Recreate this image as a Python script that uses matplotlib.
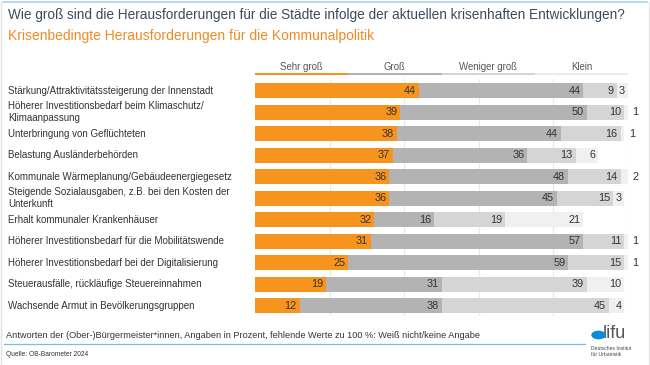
import matplotlib
matplotlib.use("Agg")
import matplotlib.pyplot as plt
from matplotlib.patches import Circle
from matplotlib.lines import Line2D

plt.rcParams["font.family"] = ["Liberation Sans", "DejaVu Sans"]

categories = [
    "Stärkung/Attraktivitätssteigerung der Innenstadt",
    "Höherer Investitionsbedarf beim Klimaschutz/\nKlimaanpassung",
    "Unterbringung von Geflüchteten",
    "Belastung Ausländerbehörden",
    "Kommunale Wärmeplanung/Gebäudeenergiegesetz",
    "Steigende Sozialausgaben, z.B. bei den Kosten der\nUnterkunft",
    "Erhalt kommunaler Krankenhäuser",
    "Höherer Investitionsbedarf für die Mobilitätswende",
    "Höherer Investitionsbedarf bei der Digitalisierung",
    "Steuerausfälle, rückläufige Steuereinnahmen",
    "Wachsende Armut in Bevölkerungsgruppen",
]
sehr_gross = [44, 39, 38, 37, 36, 36, 32, 31, 25, 19, 12]
gross = [44, 50, 44, 36, 48, 45, 16, 57, 59, 31, 38]
weniger_gross = [9, 10, 16, 13, 14, 15, 19, 11, 15, 39, 45]
klein = [3, 1, 1, 6, 2, 3, 21, 1, 1, 10, 4]
series_names = ["Sehr groß", "Groß", "Weniger groß", "Klein"]
colors = ["#f7941d", "#b3b3b3", "#d5d5d5", "#f0f0f0"]

W, H = 650, 365
fig = plt.figure(figsize=(6.5, 3.65), dpi=100)


def fx(px):
    return px / W


def fy(py):
    return 1 - py / H


# frame
fig.add_artist(Line2D([fx(3), fx(647)], [fy(1.5), fy(1.5)], color="#a9d4ee", lw=1.2))
fig.add_artist(Line2D([fx(1), fx(1)], [fy(2), fy(364)], color="#e3e3e3", lw=1.0))
fig.add_artist(Line2D([fx(648.5), fx(648.5)], [fy(2), fy(364)], color="#e3e3e3", lw=1.0))

fig.text(fx(8), fy(15), "Wie groß sind die Herausforderungen für die Städte infolge der aktuellen krisenhaften Entwicklungen?",
         fontsize=9.8, color="#3b4b5e", va="center", ha="left")
fig.text(fx(8), fy(36), "Krisenbedingte Herausforderungen für die Kommunalpolitik",
         fontsize=10.0, color="#f08a24", va="center", ha="left")

# main bars axes: x 0..100 -> 255..628 px
x0, x1 = 255, 628
top, bottom = 79, 316
ax = fig.add_axes([fx(x0), fy(bottom), fx(x1 - x0), (bottom - top) / H])
n = len(categories)
ax.set_xlim(0, 100)
ax.set_ylim(n - 1 + 0.48, -0.544)
for g in [20, 40, 60, 80, 100]:
    ax.axvline(g, color="#e8e8e8", lw=0.8, zorder=0)

series = [sehr_gross, gross, weniger_gross, klein]
ys = list(range(n))
lefts = [0] * n
for si, vals in enumerate(series):
    ax.barh(ys, vals, left=lefts, height=0.7, color=colors[si], edgecolor="none", zorder=2)
    for i, v in enumerate(vals):
        end = lefts[i] + v
        if v <= 2:
            ax.text(end + 1.2, i, str(v), ha="left", va="center", fontsize=7.8,
                    color="#333333", clip_on=False, zorder=3)
        else:
            ax.text(end - 0.8, i, str(v), ha="right", va="center", fontsize=7.8,
                    color="#333333", zorder=3)
    lefts = [l + v for l, v in zip(lefts, vals)]

ax.set_yticks(ys)
ax.set_yticklabels([])
ax.tick_params(length=0)
ax.set_xticks([])
for s in ax.spines.values():
    s.set_visible(False)
ax.patch.set_alpha(0)

for i, c in enumerate(categories):
    ypx = top + (i + 0.544) * (bottom - top) / (n - 1 + 0.48 + 0.544)
    fig.text(fx(8), fy(ypx), c, fontsize=7.0, color="#333333", va="center", ha="left",
             linespacing=1.2)

# legend strip
leg = fig.add_axes([fx(x0), fy(79), fx(x1 - x0), 20 / H])
leg.set_xlim(0, 100)
leg.set_ylim(20, 0)
leg.axis("off")
for k, name in enumerate(series_names):
    leg.barh(15, 25, left=25 * k, height=2.6, color=colors[k] if k < 3 else "#ececec", edgecolor="none")
    leg.text(25 * k + 12.5, 7.5, name, ha="center", va="center", fontsize=6.9, color="#555555")

# footer
fig.text(fx(6), fy(336), "Antworten der (Ober-)Bürgermeister*innen, Angaben in Prozent, fehlende Werte zu 100 %: Weiß nicht/keine Angabe",
         fontsize=6.6, color="#333333", va="center", ha="left")
fig.add_artist(Line2D([fx(4), fx(585)], [fy(344), fy(344)], color="#6ec1ea", lw=0.9))
fig.text(fx(6), fy(354), "Quelle: OB-Barometer 2024", fontsize=4.8, color="#333333", va="center", ha="left")

# logo
fig.add_artist(Circle((fx(598.5), fy(335)), 6.5 / W, transform=fig.transFigure,
                      color="#0a8fd6", zorder=5))
fig.text(fx(603), fy(333), "lifu", fontsize=13, color="#555555", va="center", ha="left")
fig.text(fx(591), fy(349), "Deutsches Institut", fontsize=3.6, color="#444444", va="center", ha="left")
fig.text(fx(591), fy(355), "für Urbanistik", fontsize=3.6, color="#444444", va="center", ha="left")

fig.savefig("out.png", dpi=100)
